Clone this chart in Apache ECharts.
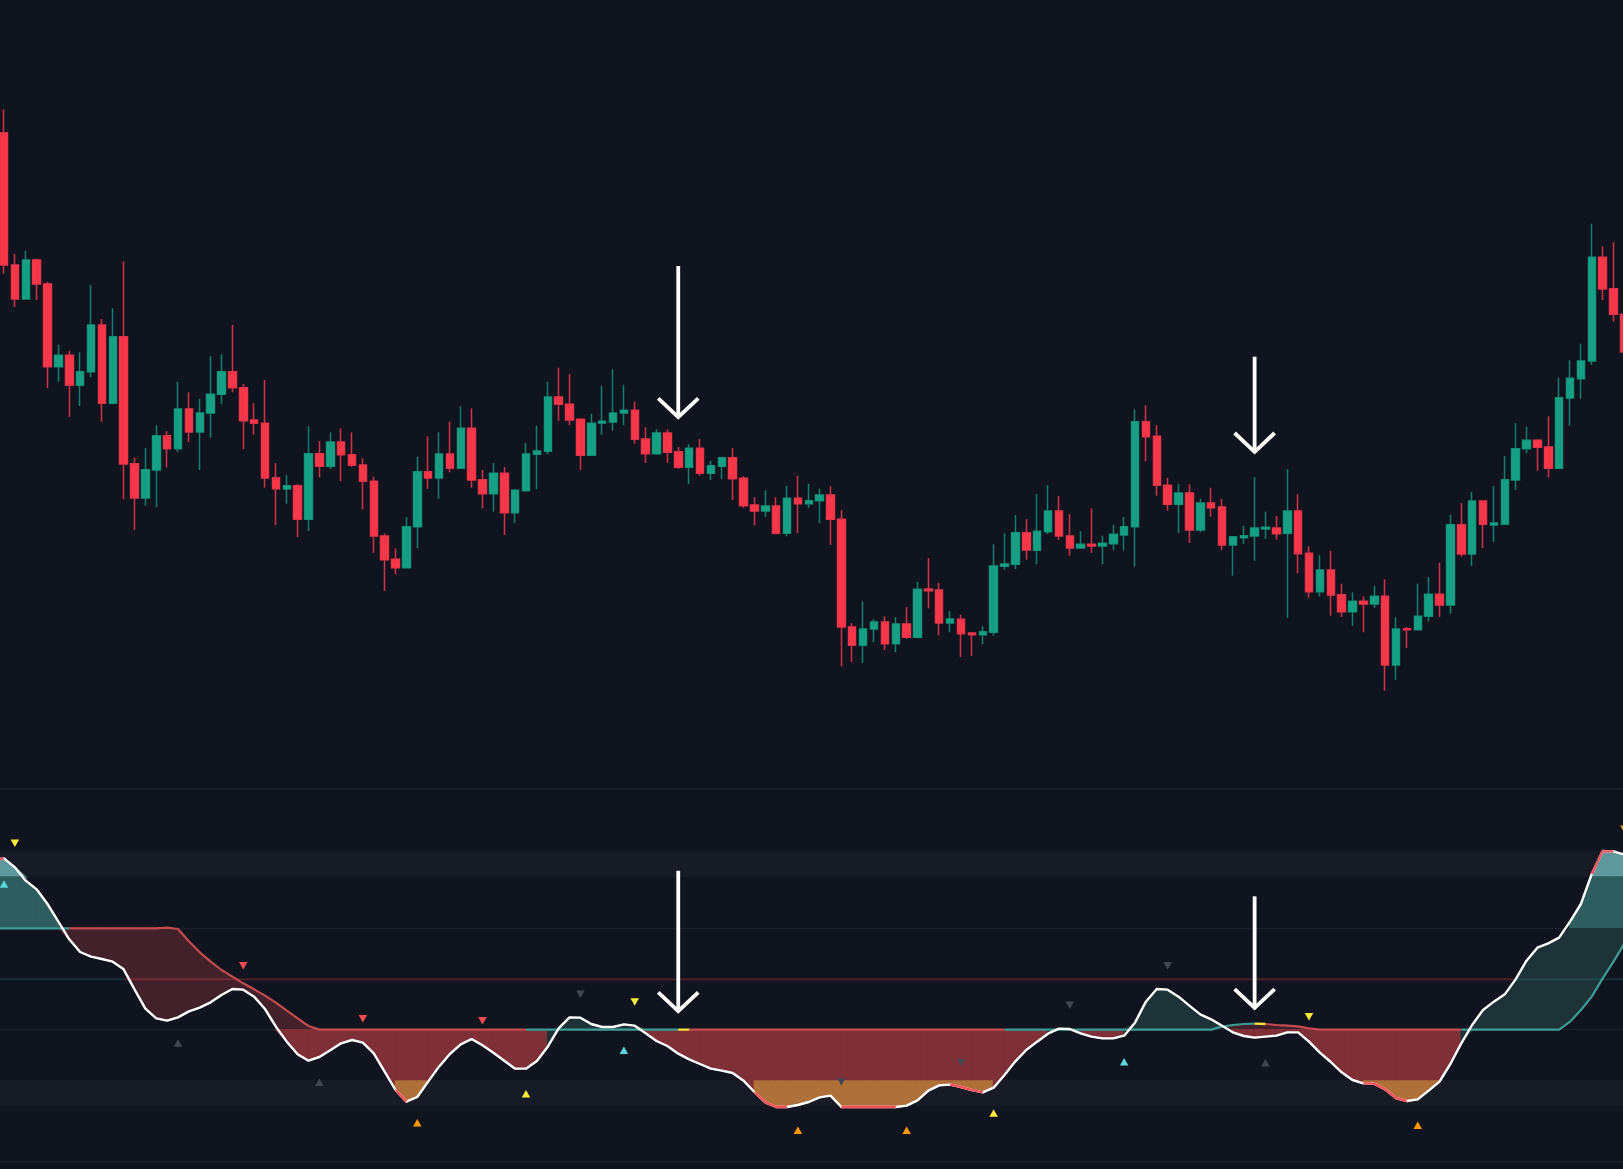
<!DOCTYPE html>
<html>
<head>
<meta charset="utf-8">
<style>html,body{margin:0;padding:0;background:#10141f;overflow:hidden}#c{position:absolute;left:-40px;top:0;width:1703px;height:1169px}</style>
<script src="https://cdn.jsdelivr.net/npm/echarts@6/dist/echarts.min.js"></script>
</head>
<body>
<div id="c"></div>
<script>
// Candles (price units: the pane is scaled 0..788)
const opens = [655.3,523,489,528,504,421.3,432.7,402.7,416.3,463,384.7,451.3,324.3,290,318,352.3,339.3,379,356,375,393.7,416.3,400.3,368,364.7,310.3,299,302.3,268.7,334.3,321.7,346,333.3,323,306.7,252,228.7,220.3,261.3,316.3,310,334,319.7,359.7,308.3,294.3,314.7,275.3,297.3,333.7,336.7,391,383.7,368.7,332.7,365,366,375,377.7,349,334.3,355,336.3,320.7,339.7,314.7,321.7,330.3,309.7,283,277,282,254.7,289.7,284.3,287.3,293,268.7,161,142.7,159,166,144.3,164,150.7,199,198,165,168.7,155,153.3,155.7,221.7,223.7,255.3,237.7,256.3,277,252,240,243.7,242,244.3,253,261.3,366.3,351.7,302.7,283.7,295,258,285,281,243,250.3,252,259,260,254.7,277,234.7,196.3,218,193.3,176.3,186.7,184,191.7,123,159.3,158.3,171.7,193.7,183,263.3,234,287,263,263.7,308,339.3,347.7,341,319.7,390,409.3,427,530.7,499.3,473.7];
const closes = [523,489,528,504,421.3,432.7,402.7,416.3,463,384.7,451.3,324,290,318.3,352.3,339.3,379,356,375,393.7,416.3,400.3,367.3,364.7,310,299.3,302.3,268.7,334.3,321.7,346,333.3,322.7,306.7,252,228.3,220.3,261.3,316.3,310,334,319.7,359.7,308,294.3,314.7,275.3,297.7,334,337,391,383.7,368,332.7,364.7,366.7,375,377.7,348.7,334.3,355,335.7,320.7,339.7,314.7,322.3,330.3,309.3,282.3,277,282,254.7,289.7,284.3,287.3,293,268.7,161,142.7,159,166,144.3,164,150.7,198.7,197.3,165,169,154.3,153.3,156.3,222,224,255.3,238,256.7,277,252,240,243.7,242,244.7,253.7,261.3,366.3,351.3,302.7,283.7,295,258,285,280.3,243,251.3,252.3,260,260.7,254.3,277,234.3,196.3,218,193,176.3,186.7,184,191.7,123,159,158.3,171.7,193.7,183,263.3,234,287,263.7,265,308.3,339.3,347.7,340.7,319.7,390.3,409.7,427,530.7,499,473.7,436];
const highs = [678.7,534,537.3,529.3,506.3,443.3,437.3,435.7,503.3,469,479.7,526.7,330.3,340,362.7,356.7,406.3,395.7,389.3,431.7,433.7,463,404,384.7,408,324.7,312.7,303.7,361.7,347,355.7,359.7,355.7,329.7,311.3,254.7,239.7,271,331.3,351.7,355.7,366.3,381.7,379.7,318,325,321,298.7,345,362.3,406.3,420.3,414,368.7,374.3,402,418.7,403,386.3,360.7,358.7,358.7,341,344,349,327,331.3,340,311.7,290.7,297.7,290.7,302.3,312.3,304.3,299.3,301.7,278,164.7,186.7,169,171.7,170.7,180.7,206.3,230,205.3,176.7,173.3,155.7,161.7,243.7,254.7,273,268.7,294,302.7,292,274,256.7,279.7,252.3,263.3,271,378.7,382.7,362.7,310.3,304.3,303.7,289,300.3,289,251.7,262.3,311,276.3,272,318.7,293.7,241.7,232.7,237.3,204.3,195.7,191.7,202,208.7,170.7,161,204.3,211,225.3,273.3,284.7,296,287.3,302,332,364.7,361.3,348.7,371.7,410.3,427.7,444.3,564.3,541.7,545.7,485];
const lows = [514.3,481,489,488,399.7,406.3,371.3,382,410.7,366.3,383.7,288.7,258,282.3,280.7,320.7,335.7,346,318,350.3,383.7,395.7,338.7,353.3,300.3,263,284.3,251,257,310.7,319,306.7,321.3,278.7,235.3,197,213.7,220.3,239.7,299.3,289.3,315.7,319.7,300.3,279.7,276.3,253,264.7,297.3,298.7,333.7,367.3,362.7,318,332.7,353.3,357.3,362.7,344.3,325,333.3,325.3,319.3,304,312.3,308,309,288,280.3,262.7,271.3,254,251.7,255,279.7,264.7,243.3,121.7,126,125,145.7,138,135.7,149.3,150.7,179.7,152.7,155.7,131,132,143.7,152.3,218.3,219,228.3,223.7,254,248,232.3,240,235.3,223.7,238,237.7,221.3,326.7,292.3,277.3,255,245,255.7,271.3,237.7,212.3,244,227.3,249,248.3,170.3,214.7,190.3,191.7,172.3,171,162.3,155.7,180.3,97.3,108,140,158.3,166.7,171.3,174.3,231.3,222.3,240,246,263.7,298,334.7,317.3,310.7,319.7,362.3,389.3,423.3,488,466.3,436];

// Oscillator (one point before the first candle is needed to reach the left edge)
const white = [927,932,905,865,839,795,742,689,651,637,630,622,599,539,481,452,445,455,473,484,500,522,540,538,517,480,427,382,344,325,336,356,377,387,379,347,292,237,202,216,262,307,345,374,390,371,349,325,301,301,324,367,422,455,454,435,426,426,434,430,407,384,369,346,329,315,301,295,288,265,231,200,186,186,192,201,215,220,186,186,186,186,186,186,190,206,235,251,253,246,237,230,244,282,323,357,382,406,421,420,407,397,392,392,400,439,502,540,538,517,490,464,449,430,410,399,394,397,400,410,410,382,349,321,290,267,257,256,239,213,204,209,235,262,315,377,432,477,502,524,569,625,664,677,694,742,795,885,953,953,943];
const signal = [
722,722,722,722,722,722,722,722,722,722,
722,722,722,722,722,722,724,720,683,650,
622,597,577,557,539,520,499,475,452,429,
418,418,418,418,418,418,418,418,418,418,
418,418,418,418,418,418,418,418,418,418,
418,418,418,418,418,418,418,418,418,418,
418,418,418,418,418,418,418,418,418,418,
418,418,418,418,418,418,418,418,418,418,
418,418,418,418,418,418,418,418,418,418,
418,418,418,418,418,418,418,418,418,418,
418,418,418,418,418,418,418,418,418,418,
418,418,418,427,432,435,436,435,432,430,
428,422,418,418,418,418,418,418,418,418,
418,418,418,418,418,418,418,418,418,418,
418,418,418,418,418,442,477,517,572,622,
677];
const midLevel = 569, upperLevel = 721, baseLevel = 418, floorLevel = 264;
const upperBand = [876, 954], lowerBand = [189, 267];

// Ranges are in candle numbers
const sigTeal = [[-1,6],[48,62],[92,115],[134,149]];
const sigRed = [[6,48],[63,92],[116,134]];
const sigYellow = [[62,63],[115,116]];
const hotRanges = [[-1,0],[36,37],[69,72],[77,82],[87,90],[125,129],[146,148]];
const midTeal = [[-1,11],[139,149]];
const midRed = [[11,139]];

// Markers: [candle number, oscillator value]
const downYellow = [[1,977],[58,501],[120,457]];
const upCyan = [[0,855],[57,356],[103,322]];
const downRed = [[22,610],[33,451],[44,445]];
const upGrey = [[16,378],[29,260],[116,319]];
const downGrey = [[53,524],[77,261],[88,319],[98,491],[107,610]];
const upOrange = [[38,139],[73,116],[83,116],[130,131]];
const upYellow = [[48,226],[91,168]];
const downOrange = [[149,1019]];
// Arrows: [candle number, shaft top, tip]
const priceArrows = [[62,522,370.3],[115,431.3,335.7]];
const oscArrows = [[62,895,472],[115,818,482]];

const LEAD = 1, STEP = 10.875, OFFSET = 40;
const categories = white.map((_, i) => String(i - LEAD));
const blank = ['-','-','-','-'];
const wickBars = [blank].concat(opens.map((o,i)=>[o,closes[i],lows[i],highs[i]]));
const bodyBars = [blank].concat(opens.map((o,i)=>[o,closes[i],Math.min(o,closes[i]),Math.max(o,closes[i])]));

function pick(arr, ranges){
  return arr.map((v,i)=>ranges.some(r=>i-LEAD>=r[0]&&i-LEAD<=r[1])?v:null);
}
function clipPoly(poly, lo, hi){
  function cut(p, keep, edge){
    const out=[];
    for(let i=0;i<p.length;i++){
      const a=p[i], b=p[(i+1)%p.length], ka=keep(a[1]), kb=keep(b[1]);
      if(ka) out.push(a);
      if(ka!==kb){const t=(edge-a[1])/(b[1]-a[1]);out.push([a[0]+t*(b[0]-a[0]),edge]);}
    }
    return out;
  }
  let r=poly;
  if(lo!==null) r=cut(r,v=>v>=lo,lo);
  if(r.length&&hi!==null) r=cut(r,v=>v<=hi,hi);
  return r;
}
const C = {tl:'#5f989b',tm:'#2e5d5f',td:'#1e3338',rd:'#43212a',rm:'#7f2f36',or:'#b07039'};
function tealParts(p){return [[p,upperBand[0],null,C.tl],[p,upperLevel,upperBand[0],C.tm],[p,null,upperLevel,C.td]];}
function redParts(p,both){
  const out=[[p,baseLevel,null,C.rd]];
  if(both){out.push([p,floorLevel,baseLevel,C.rm]);out.push([p,null,floorLevel,C.or]);}
  else out.push([p,null,baseLevel,C.rm]);
  return out;
}
function renderFill(params, api){
  const i=api.value(0);
  if(i>=white.length-1) return;
  const w0=white[i],w1=white[i+1],s0=signal[i],s1=signal[i+1],a=i,b=i+1;
  let parts=[];
  const d0=w0-s0,d1=w1-s1;
  const quad=[[a,w0],[b,w1],[b,s1],[a,s0]];
  const both=w0<floorLevel&&w1<floorLevel;
  if(d1>0){
    if(d0>=0) parts=tealParts(quad);
    else{const t=d0/(d0-d1),x=a+t,y=w0+t*(w1-w0);
      parts=tealParts([[a,w0],[x,y],[a,s0]]).concat(tealParts([[x,y],[b,w1],[b,s1]]));}
  }else{
    if(d0>0){const t=d0/(d0-d1),x=a+t,y=w0+t*(w1-w0);
      parts=tealParts([[a,w0],[x,y],[a,s0]]).concat(redParts([[x,y],[b,w1],[b,s1]],both));}
    else parts=redParts(quad,both);
  }
  const children=[];
  parts.forEach(p=>{
    const c=clipPoly(p[0],p[1],p[2]);
    if(c.length>2){
      children.push({type:'polygon',shape:{points:c.map(q=>api.coord([q[0],q[1]]))},
        style:{fill:p[3],stroke:p[3],lineWidth:1.5,opacity:1}});
    }
  });
  return {type:'group',children};
}
function renderArrow(params, api){
  const top=api.coord([api.value(0),api.value(1)]);
  const tip=api.coord([api.value(0),api.value(2)]);
  const st={stroke:'#ffffff',lineWidth:3.8,fill:'none'};
  return {type:'group',children:[
    {type:'line',shape:{x1:top[0],y1:top[1],x2:tip[0],y2:tip[1]-1},style:st},
    {type:'polyline',shape:{points:[[tip[0]-20,tip[1]-19.3],[tip[0],tip[1]-0.5],[tip[0]+20,tip[1]-19.3]]},style:Object.assign({lineJoin:'miter'},st)}
  ]};
}
function lineSeries(data,color,width,z){
  return {type:'line',xAxisIndex:1,yAxisIndex:1,data,showSymbol:false,symbol:'none',silent:true,z,
    lineStyle:{color,width,cap:'butt'},connectNulls:false};
}
function marks(pts,color,rot){
  return {type:'scatter',xAxisIndex:1,yAxisIndex:1,symbol:'triangle',symbolSize:[8.5,7.5],symbolRotate:rot,silent:true,z:6,
    itemStyle:{color,opacity:1},data:pts.map(p=>[p[0]+LEAD,p[1]])};
}
const wickStyle={color0:'#d0304a',color:'#0f7f6e',borderColor0:'#d0304a',borderColor:'#0f7f6e',borderColorDoji:'#0f7f6e',borderWidth:1.5};
const bodyStyle={color0:'#f63649',color:'#15a083',borderColor0:'#f63649',borderColor:'#15a083',borderColorDoji:'#15a083',borderWidth:0.5};
const midSeries=lineSeries(white.map(()=>midLevel),'rgba(0,0,0,0)',0,0);
midSeries.markLine={silent:true,symbol:'none',z:0,label:{show:false},animation:false,
  lineStyle:{color:'#1b202b',width:1,type:'solid'},data:[{yAxis:upperLevel},{yAxis:baseLevel}]};
midSeries.markArea={silent:true,z:0,animation:false,itemStyle:{color:'#161b26'},label:{show:false},
  data:[[{yAxis:upperBand[0]},{yAxis:upperBand[1]}],[{yAxis:lowerBand[0]},{yAxis:lowerBand[1]}]]};

const chart=echarts.init(document.getElementById('c'),null,{renderer:'canvas'});
const gridLeft=OFFSET+4-(LEAD+0.5)*STEP, gridWidth=categories.length*STEP;
chart.setOption({
  animation:false,
  backgroundColor:'#10141f',
  tooltip:{show:false},
  grid:[
    {left:gridLeft,width:gridWidth,top:0,height:788,show:false},
    {left:gridLeft,width:gridWidth,top:789,height:373,show:true,borderWidth:1,borderColor:'#242935',backgroundColor:'transparent'}
  ],
  xAxis:[
    {type:'category',gridIndex:0,data:categories,show:false},
    {type:'category',gridIndex:1,data:categories,show:false}
  ],
  yAxis:[
    {type:'value',gridIndex:0,min:0,max:788,show:false,splitLine:{show:false}},
    {type:'value',gridIndex:1,min:21,max:1140,show:false,splitLine:{show:false}}
  ],
  series:[
    {type:'candlestick',xAxisIndex:0,yAxisIndex:0,data:wickBars,barWidth:8,silent:true,itemStyle:wickStyle,z:2},
    {type:'candlestick',xAxisIndex:0,yAxisIndex:0,data:bodyBars,barWidth:8,silent:true,itemStyle:bodyStyle,z:3},
    {type:'custom',xAxisIndex:0,yAxisIndex:0,renderItem:renderArrow,data:priceArrows.map(a=>[a[0]+LEAD,a[1],a[2]]),encode:{x:0,y:[1,2]},silent:true,z:7,clip:false},
    midSeries,
    {type:'custom',xAxisIndex:1,yAxisIndex:1,renderItem:renderFill,data:white.map((_,i)=>[i]),encode:{x:0},silent:true,z:1,clip:true},
    lineSeries(pick(white.map(()=>midLevel),midTeal),'rgba(38,166,154,0.2)',2,2),
    lineSeries(pick(white.map(()=>midLevel),midRed),'rgba(242,70,80,0.25)',2,2),
    lineSeries(pick(signal,sigTeal),'#3d9b94',2.2,3),
    lineSeries(pick(signal,sigRed),'#c44b50',2.2,3),
    lineSeries(pick(signal,sigYellow),'#f5e33a',2.4,3),
    lineSeries(white,'#ffffff',2.4,4),
    lineSeries(pick(white,hotRanges),'#f6525c',2.4,5),
    marks(downYellow,'#ffeb3b',180),marks(upCyan,'#5ad6dc',0),marks(downRed,'#f44c50',180),
    marks(upGrey,'#434651',0),marks(downGrey,'#434651',180),marks(upOrange,'#ff9800',0),
    marks(upYellow,'#ffeb3b',0),marks(downOrange,'#ff9800',180),
    {type:'custom',xAxisIndex:1,yAxisIndex:1,renderItem:renderArrow,data:oscArrows.map(a=>[a[0]+LEAD,a[1],a[2]]),encode:{x:0,y:[1,2]},silent:true,z:7,clip:false}
  ]
});
</script>
</body>
</html>
